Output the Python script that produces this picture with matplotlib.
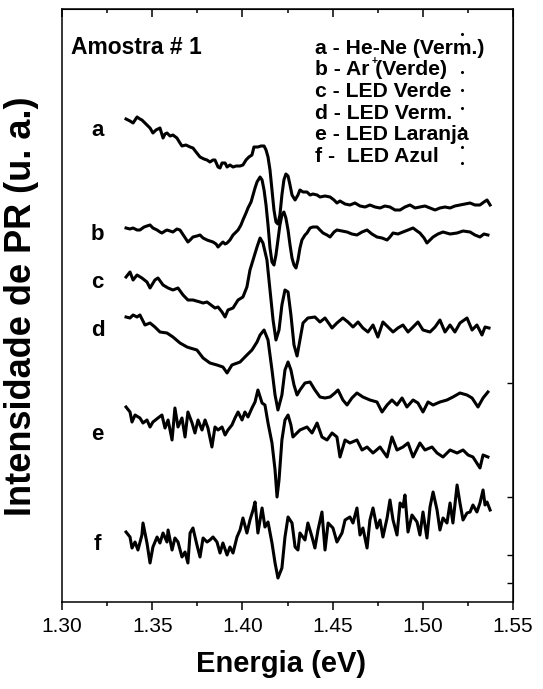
import matplotlib
matplotlib.use("Agg")
import matplotlib.pyplot as plt
from matplotlib.ticker import MultipleLocator

# ---------------- data (energy in eV, PR intensity in arbitrary units, offset curves) -------------
Ea = [1.3355,1.3377,1.3394,1.3416,1.3432,1.3443,1.3460,1.3471,1.3488,1.3504,1.3521,1.3543,1.3560,1.3571,1.3582,1.3599,1.3615,1.3637,1.3654,1.3665,1.3687,1.3710,1.3726,1.3743,1.3765,1.3787,1.3804,1.3820,1.3837,1.3848,1.3865,1.3876,1.3887,1.3904,1.3915,1.3931,1.3948,1.3965,1.3987,1.4003,1.4020,1.4036,1.4053,1.4064,1.4086,1.4103,1.4120,1.4131,1.4142,1.4153,1.4164,1.4175,1.4186,1.4197,1.4208,1.4219,1.4230,1.4241,1.4253,1.4264,1.4275,1.4292,1.4308,1.4319,1.4336,1.4358,1.4375,1.4391,1.4414,1.4430,1.4458,1.4486,1.4508,1.4524,1.4541,1.4569,1.4596,1.4624,1.4652,1.4680,1.4707,1.4735,1.4763,1.4790,1.4818,1.4846,1.4874,1.4901,1.4929,1.4957,1.4984,1.5012,1.5040,1.5068,1.5095,1.5123,1.5151,1.5178,1.5206,1.5234,1.5262,1.5289,1.5317,1.5339,1.5356,1.5373]
Ia = [4.83,4.81,4.79,4.85,4.83,4.82,4.79,4.77,4.74,4.69,4.72,4.74,4.64,4.68,4.69,4.66,4.67,4.64,4.59,4.56,4.57,4.55,4.54,4.50,4.45,4.43,4.42,4.40,4.42,4.42,4.35,4.34,4.39,4.39,4.35,4.37,4.35,4.36,4.36,4.37,4.42,4.45,4.47,4.55,4.55,4.56,4.56,4.52,4.45,4.32,4.12,3.92,3.80,3.78,3.87,4.07,4.22,4.28,4.26,4.17,4.07,4.02,4.07,4.12,4.10,4.10,4.07,4.08,4.07,4.05,4.06,4.05,4.02,3.99,4.01,3.98,3.97,3.99,3.96,3.95,3.97,3.95,3.94,3.96,3.95,3.92,3.92,3.95,3.97,3.94,3.95,3.96,3.94,3.92,3.94,3.95,3.94,3.96,3.97,3.98,3.99,3.97,3.97,4.00,4.02,3.97]

Eb = [1.3355,1.3377,1.3394,1.3416,1.3432,1.3455,1.3471,1.3488,1.3504,1.3527,1.3543,1.3554,1.3571,1.3582,1.3599,1.3615,1.3637,1.3654,1.3676,1.3698,1.3710,1.3726,1.3748,1.3765,1.3782,1.3804,1.3820,1.3837,1.3854,1.3865,1.3881,1.3892,1.3904,1.3915,1.3931,1.3948,1.3965,1.3976,1.3992,1.4003,1.4020,1.4031,1.4048,1.4059,1.4070,1.4081,1.4098,1.4109,1.4120,1.4131,1.4142,1.4153,1.4164,1.4175,1.4186,1.4197,1.4208,1.4219,1.4230,1.4241,1.4253,1.4264,1.4275,1.4286,1.4297,1.4308,1.4319,1.4330,1.4347,1.4358,1.4375,1.4391,1.4414,1.4430,1.4447,1.4469,1.4486,1.4508,1.4524,1.4552,1.4580,1.4607,1.4635,1.4663,1.4691,1.4718,1.4746,1.4774,1.4802,1.4818,1.4835,1.4862,1.4890,1.4918,1.4946,1.4968,1.4984,1.5007,1.5023,1.5040,1.5057,1.5084,1.5112,1.5151,1.5190,1.5223,1.5262,1.5289,1.5317,1.5339,1.5361]
Ib = [3.74,3.73,3.74,3.72,3.72,3.75,3.76,3.77,3.74,3.72,3.70,3.69,3.71,3.72,3.71,3.70,3.73,3.72,3.66,3.60,3.62,3.65,3.66,3.67,3.64,3.62,3.61,3.60,3.58,3.55,3.58,3.60,3.58,3.59,3.62,3.67,3.70,3.72,3.77,3.82,3.89,3.94,4.00,4.07,4.14,4.20,4.25,4.22,4.12,3.97,3.77,3.54,3.40,3.37,3.47,3.62,3.77,3.87,3.90,3.84,3.72,3.57,3.44,3.37,3.34,3.42,3.54,3.62,3.67,3.69,3.74,3.75,3.75,3.72,3.69,3.67,3.65,3.70,3.72,3.71,3.70,3.68,3.67,3.70,3.72,3.68,3.65,3.64,3.62,3.65,3.69,3.68,3.70,3.72,3.74,3.71,3.69,3.64,3.59,3.62,3.65,3.68,3.70,3.68,3.69,3.71,3.70,3.67,3.65,3.68,3.67]

Ec = [1.3355,1.3377,1.3394,1.3416,1.3443,1.3471,1.3488,1.3515,1.3532,1.3560,1.3588,1.3615,1.3643,1.3671,1.3698,1.3726,1.3765,1.3782,1.3804,1.3848,1.3865,1.3887,1.3904,1.3920,1.3948,1.3976,1.4003,1.4025,1.4042,1.4059,1.4081,1.4098,1.4114,1.4136,1.4153,1.4170,1.4186,1.4203,1.4219,1.4236,1.4253,1.4269,1.4286,1.4303,1.4319,1.4336,1.4363,1.4402,1.4430,1.4458,1.4497,1.4524,1.4557,1.4585,1.4613,1.4641,1.4668,1.4696,1.4724,1.4751,1.4779,1.4807,1.4835,1.4862,1.4890,1.4918,1.4946,1.4973,1.5001,1.5040,1.5068,1.5095,1.5123,1.5151,1.5178,1.5206,1.5245,1.5273,1.5300,1.5328,1.5345,1.5367]
Ic = [3.25,3.30,3.22,3.27,3.24,3.20,3.14,3.22,3.24,3.17,3.14,3.12,3.14,3.07,3.02,3.02,3.00,2.99,3.00,2.94,2.95,2.90,2.85,2.92,2.94,3.02,3.05,3.15,3.32,3.42,3.55,3.64,3.59,3.42,3.12,2.82,2.62,2.72,2.97,3.12,3.10,2.87,2.57,2.46,2.62,2.79,2.84,2.85,2.80,2.84,2.74,2.79,2.84,2.80,2.75,2.80,2.74,2.70,2.77,2.65,2.80,2.75,2.70,2.74,2.77,2.70,2.75,2.80,2.72,2.70,2.75,2.82,2.70,2.77,2.70,2.79,2.84,2.72,2.77,2.67,2.75,2.74]

Ed = [1.3355,1.3377,1.3394,1.3416,1.3432,1.3460,1.3488,1.3515,1.3543,1.3582,1.3615,1.3654,1.3693,1.3710,1.3748,1.3782,1.3820,1.3859,1.3892,1.3915,1.3942,1.3987,1.4025,1.4053,1.4081,1.4098,1.4120,1.4142,1.4164,1.4181,1.4197,1.4219,1.4236,1.4253,1.4269,1.4286,1.4303,1.4319,1.4347,1.4375,1.4402,1.4430,1.4458,1.4486,1.4513,1.4530,1.4557,1.4580,1.4607,1.4635,1.4668,1.4707,1.4746,1.4774,1.4802,1.4829,1.4857,1.4885,1.4912,1.4946,1.4973,1.5001,1.5029,1.5057,1.5095,1.5134,1.5167,1.5206,1.5245,1.5273,1.5306,1.5334,1.5361]
Id = [2.85,2.84,2.87,2.85,2.87,2.77,2.79,2.75,2.70,2.69,2.65,2.59,2.55,2.54,2.52,2.44,2.39,2.37,2.35,2.29,2.37,2.40,2.47,2.52,2.60,2.67,2.72,2.62,2.32,2.07,1.92,2.07,2.32,2.40,2.32,2.17,2.07,2.12,2.19,2.20,2.12,2.05,2.04,2.05,2.09,2.12,2.02,1.97,2.04,2.09,2.05,2.02,2.00,1.90,1.97,2.02,1.97,2.04,1.95,2.02,1.99,1.90,2.00,1.97,2.00,2.02,2.05,2.09,2.07,2.04,1.95,2.04,2.10]

Ee = [1.3355,1.3377,1.3388,1.3405,1.3432,1.3449,1.3471,1.3488,1.3504,1.3532,1.3554,1.3571,1.3588,1.3610,1.3626,1.3643,1.3665,1.3682,1.3698,1.3721,1.3737,1.3754,1.3776,1.3793,1.3809,1.3831,1.3848,1.3865,1.3887,1.3904,1.3920,1.3942,1.3959,1.3976,1.3998,1.4014,1.4031,1.4053,1.4070,1.4086,1.4109,1.4125,1.4142,1.4164,1.4181,1.4192,1.4203,1.4219,1.4236,1.4253,1.4269,1.4280,1.4319,1.4358,1.4386,1.4414,1.4441,1.4469,1.4497,1.4524,1.4541,1.4569,1.4596,1.4635,1.4663,1.4691,1.4724,1.4763,1.4802,1.4829,1.4857,1.4890,1.4918,1.4946,1.4984,1.5012,1.5051,1.5079,1.5112,1.5151,1.5190,1.5223,1.5251,1.5278,1.5317,1.5334,1.5361]
Ie = [1.95,1.90,1.80,1.87,1.84,1.79,1.82,1.75,1.80,1.84,1.87,1.74,1.82,1.62,1.94,1.75,1.84,1.65,1.90,1.79,1.69,1.82,1.72,1.82,1.74,1.55,1.75,1.72,1.75,1.67,1.72,1.77,1.84,1.90,1.82,1.90,1.85,1.94,2.00,2.12,1.99,1.97,1.79,1.59,1.32,1.05,1.22,1.62,1.82,1.87,1.77,1.65,1.72,1.75,1.69,1.79,1.65,1.62,1.69,1.65,1.45,1.62,1.59,1.62,1.52,1.55,1.49,1.55,1.45,1.65,1.52,1.55,1.59,1.45,1.59,1.52,1.55,1.49,1.45,1.52,1.49,1.52,1.47,1.45,1.34,1.47,1.45]

Ef = [1.3355,1.3377,1.3388,1.3405,1.3421,1.3443,1.3449,1.3471,1.3488,1.3504,1.3527,1.3543,1.3560,1.3582,1.3588,1.3610,1.3626,1.3643,1.3665,1.3682,1.3698,1.3710,1.3726,1.3748,1.3765,1.3782,1.3804,1.3820,1.3837,1.3859,1.3876,1.3892,1.3915,1.3931,1.3948,1.3970,1.3987,1.4003,1.4025,1.4042,1.4059,1.4070,1.4086,1.4109,1.4125,1.4142,1.4164,1.4181,1.4197,1.4219,1.4236,1.4253,1.4275,1.4292,1.4308,1.4319,1.4347,1.4363,1.4386,1.4402,1.4419,1.4441,1.4458,1.4475,1.4502,1.4524,1.4552,1.4569,1.4596,1.4613,1.4635,1.4652,1.4668,1.4691,1.4707,1.4724,1.4746,1.4763,1.4779,1.4802,1.4818,1.4835,1.4857,1.4874,1.4890,1.4901,1.4918,1.4940,1.4968,1.4984,1.5001,1.5023,1.5040,1.5057,1.5079,1.5095,1.5112,1.5134,1.5151,1.5167,1.5190,1.5206,1.5223,1.5245,1.5262,1.5278,1.5300,1.5317,1.5334,1.5345,1.5356,1.5373]
If = [0.70,0.65,0.54,0.60,0.52,0.67,0.79,0.59,0.39,0.55,0.65,0.59,0.69,0.60,0.72,0.52,0.64,0.60,0.45,0.50,0.39,0.69,0.74,0.57,0.45,0.64,0.60,0.62,0.65,0.60,0.49,0.59,0.47,0.55,0.49,0.65,0.72,0.84,0.69,0.82,0.92,1.00,0.69,0.94,0.75,0.80,0.59,0.39,0.24,0.34,0.65,0.85,0.79,0.55,0.52,0.69,0.62,0.79,0.65,0.54,0.72,0.90,0.52,0.79,0.74,0.60,0.69,0.82,0.85,0.79,0.94,0.67,0.74,0.54,0.82,0.94,0.74,0.82,0.65,0.84,1.02,0.82,0.67,0.99,0.95,1.07,0.70,0.87,0.80,0.67,0.90,0.64,0.95,1.10,0.92,0.72,0.84,0.79,0.99,0.79,1.17,0.99,0.82,0.89,0.90,0.97,0.90,0.99,1.12,0.97,1.00,0.92]

curve_letters = ["a", "b", "c", "d", "e", "f"]
letter_y = [4.72, 3.67, 3.19, 2.72, 1.67, 0.57]
legend_lines = ["a - He-Ne (Verm.)", "b - Ar (Verde)", "c - LED Verde",
                "d - LED Verm.", "e - LED Laranja", "f -  LED Azul"]
x_ticks = [1.30, 1.35, 1.40, 1.45, 1.50, 1.55]
x_tick_labels = ["1.30", "1.35", "1.40", "1.45", "1.50", "1.55"]
# small stray dots right of the legend (as in the original)
dot_y = [5.68, 5.49, 5.30, 5.12, 4.94, 4.74, 4.55, 4.39]

# ---------------- figure -------------
plt.rcParams['font.family'] = ['Liberation Sans', 'DejaVu Sans']
fig = plt.figure(figsize=(5.43, 6.89), dpi=100)
ax = fig.add_axes([62/543, 87/689, 451/543, 593/689])

series = [(Ea, Ia), (Eb, Ib), (Ec, Ic), (Ed, Id), (Ee, Ie), (Ef, If)]
for E, I in series:
    ax.plot(E, I, color='black', lw=2.2, solid_joinstyle='round')

ax.plot([1.5217] * len(dot_y), dot_y, ls='none', marker='o', ms=1.2, color='black')

ax.set_xlim(1.30, 1.55)
ax.set_ylim(0, 5.93)
ax.set_xticks(x_ticks)
ax.set_xticklabels(x_tick_labels)
ax.xaxis.set_minor_locator(MultipleLocator(0.025))
ax.tick_params(axis='x', which='major', direction='out', length=6, width=1.1,
               labelsize=15, pad=5, top=False)
ax.tick_params(axis='x', which='minor', direction='out', length=3, width=1.1, top=False)
ax.set_yticks([])
for s in ax.spines.values():
    s.set_linewidth(1.1)

axt = ax.secondary_xaxis('top')
axt.set_xticks(x_ticks)
axt.xaxis.set_minor_locator(MultipleLocator(0.025))
axt.tick_params(axis='x', which='major', direction='in', length=6, width=1.1, labeltop=False)
axt.tick_params(axis='x', which='minor', direction='in', length=3, width=1.1)
axt.set_xticklabels([])

axr = ax.secondary_yaxis('right')
axr.set_yticks([2.19, 1.05, 0.47, 0.19])
axr.tick_params(axis='y', direction='in', length=4, width=1.0, labelright=False)
axr.set_yticklabels([])

for letter, y in zip(curve_letters, letter_y):
    ax.text(1.3197, y, letter, fontsize=16, fontweight='bold', ha='center', va='center')

ax.text(0.021, 0.935, "Amostra # 1", transform=ax.transAxes, fontsize=16.5,
        fontweight='bold', ha='left', va='center')
for i, line in enumerate(legend_lines):
    ax.text(0.562, 0.934 - i * 0.0366, line, transform=ax.transAxes, fontsize=15.2,
            fontweight='bold', ha='left', va='center')
ax.text(0.694, 0.913, "+", transform=ax.transAxes, fontsize=7.5, fontweight='bold',
        ha='center', va='center')

fig.text(281/543, 1 - 664/689, "Energia (eV)", fontsize=21, fontweight='bold',
         ha='center', va='center')
fig.text(22/543, 1 - 306/689, "Intensidade de PR (u. a.)", fontsize=26, fontweight='bold',
         ha='center', va='center', rotation=90)

fig.savefig("out.png", dpi=100)
